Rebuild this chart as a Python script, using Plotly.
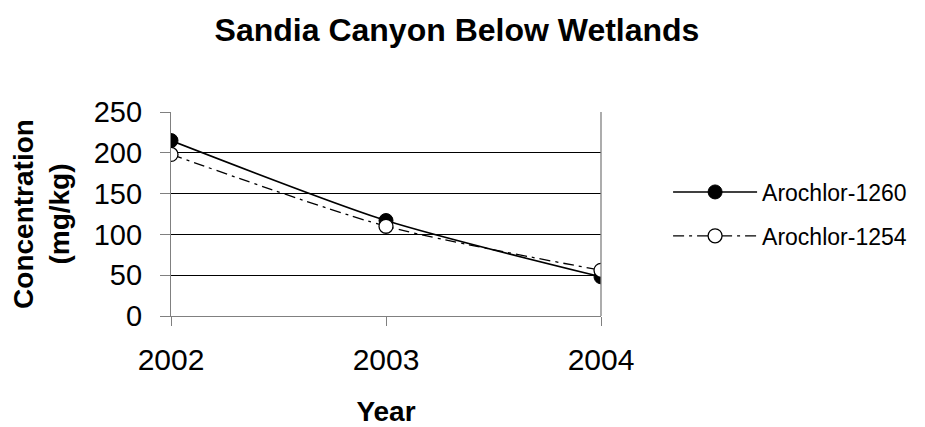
import plotly.graph_objects as go

years = [2002, 2003, 2004]
arochlor_1260 = [215, 117, 48]
arochlor_1254 = [198, 110, 56]
y_ticks = [0, 50, 100, 150, 200, 250]

FONT = "Liberation Sans, Arial, sans-serif"
W, H = 917, 419  # page body has an 8px margin

fig = go.Figure()
fig.add_trace(go.Scatter(
    x=years, y=arochlor_1260, name="Arochlor-1260", mode="lines+markers", legendgroup="a",
    line=dict(color="black", width=1.6, shape="spline", smoothing=0.7),
    marker=dict(symbol="circle", size=14, color="black", line=dict(color="black", width=1)),
))
fig.add_trace(go.Scatter(
    x=years, y=arochlor_1254, name="Arochlor-1254", mode="lines+markers", legendgroup="b",
    line=dict(color="black", width=1.3, dash="11px,5px,3px,5px", shape="spline", smoothing=0.7),
    marker=dict(symbol="circle", size=14, color="white", line=dict(color="black", width=1.3)),
))

fig.update_layout(
    width=W, height=H,
    paper_bgcolor="white", plot_bgcolor="white",
    margin=dict(l=163, r=324, t=104, b=111, autoexpand=False),
    title=dict(text="<b>Sandia Canyon Below Wetlands</b>", x=449 / W, xref="container", xanchor="center",
               y=1 - 22 / H, yref="container", yanchor="middle",
               font=dict(family=FONT, size=32, color="black")),
    font=dict(family=FONT, color="black"),
    legend=dict(x=1.156, y=0.5, xanchor="left", yanchor="middle",
                font=dict(family=FONT, size=23, color="black"),
                tracegroupgap=11, itemwidth=84, bgcolor="rgba(0,0,0,0)"),
    xaxis=dict(range=[2002, 2004], tickvals=years, ticktext=[str(y) for y in years],
               automargin=False,
               showgrid=False, zeroline=False, showline=True, linecolor="#808080", linewidth=1.3,
               ticks="outside", ticklen=9, tickcolor="#808080", ticklabelstandoff=8,
               tickfont=dict(family=FONT, size=30, color="black"),
               title=dict(text="<b>Year</b>", font=dict(family=FONT, size=28, color="black"), standoff=28)),
    yaxis=dict(range=[0, 250], tickvals=y_ticks, showgrid=True, gridcolor="black", gridwidth=1,
               automargin=False,
               zeroline=False, showline=True, linecolor="#808080", linewidth=1.3,
               ticks="outside", ticklen=10, tickcolor="#808080", ticklabelstandoff=12,
               tickfont=dict(family=FONT, size=29, color="black"),
               title=dict(text="<b>Concentration<br>(mg/kg)</b>", font=dict(family=FONT, size=28, color="black"), standoff=16)),
)
fig.add_shape(type="line", xref="paper", yref="paper", x0=1, x1=1, y0=0, y1=1,
              line=dict(color="#808080", width=1.3))
fig.write_html("out.html")
